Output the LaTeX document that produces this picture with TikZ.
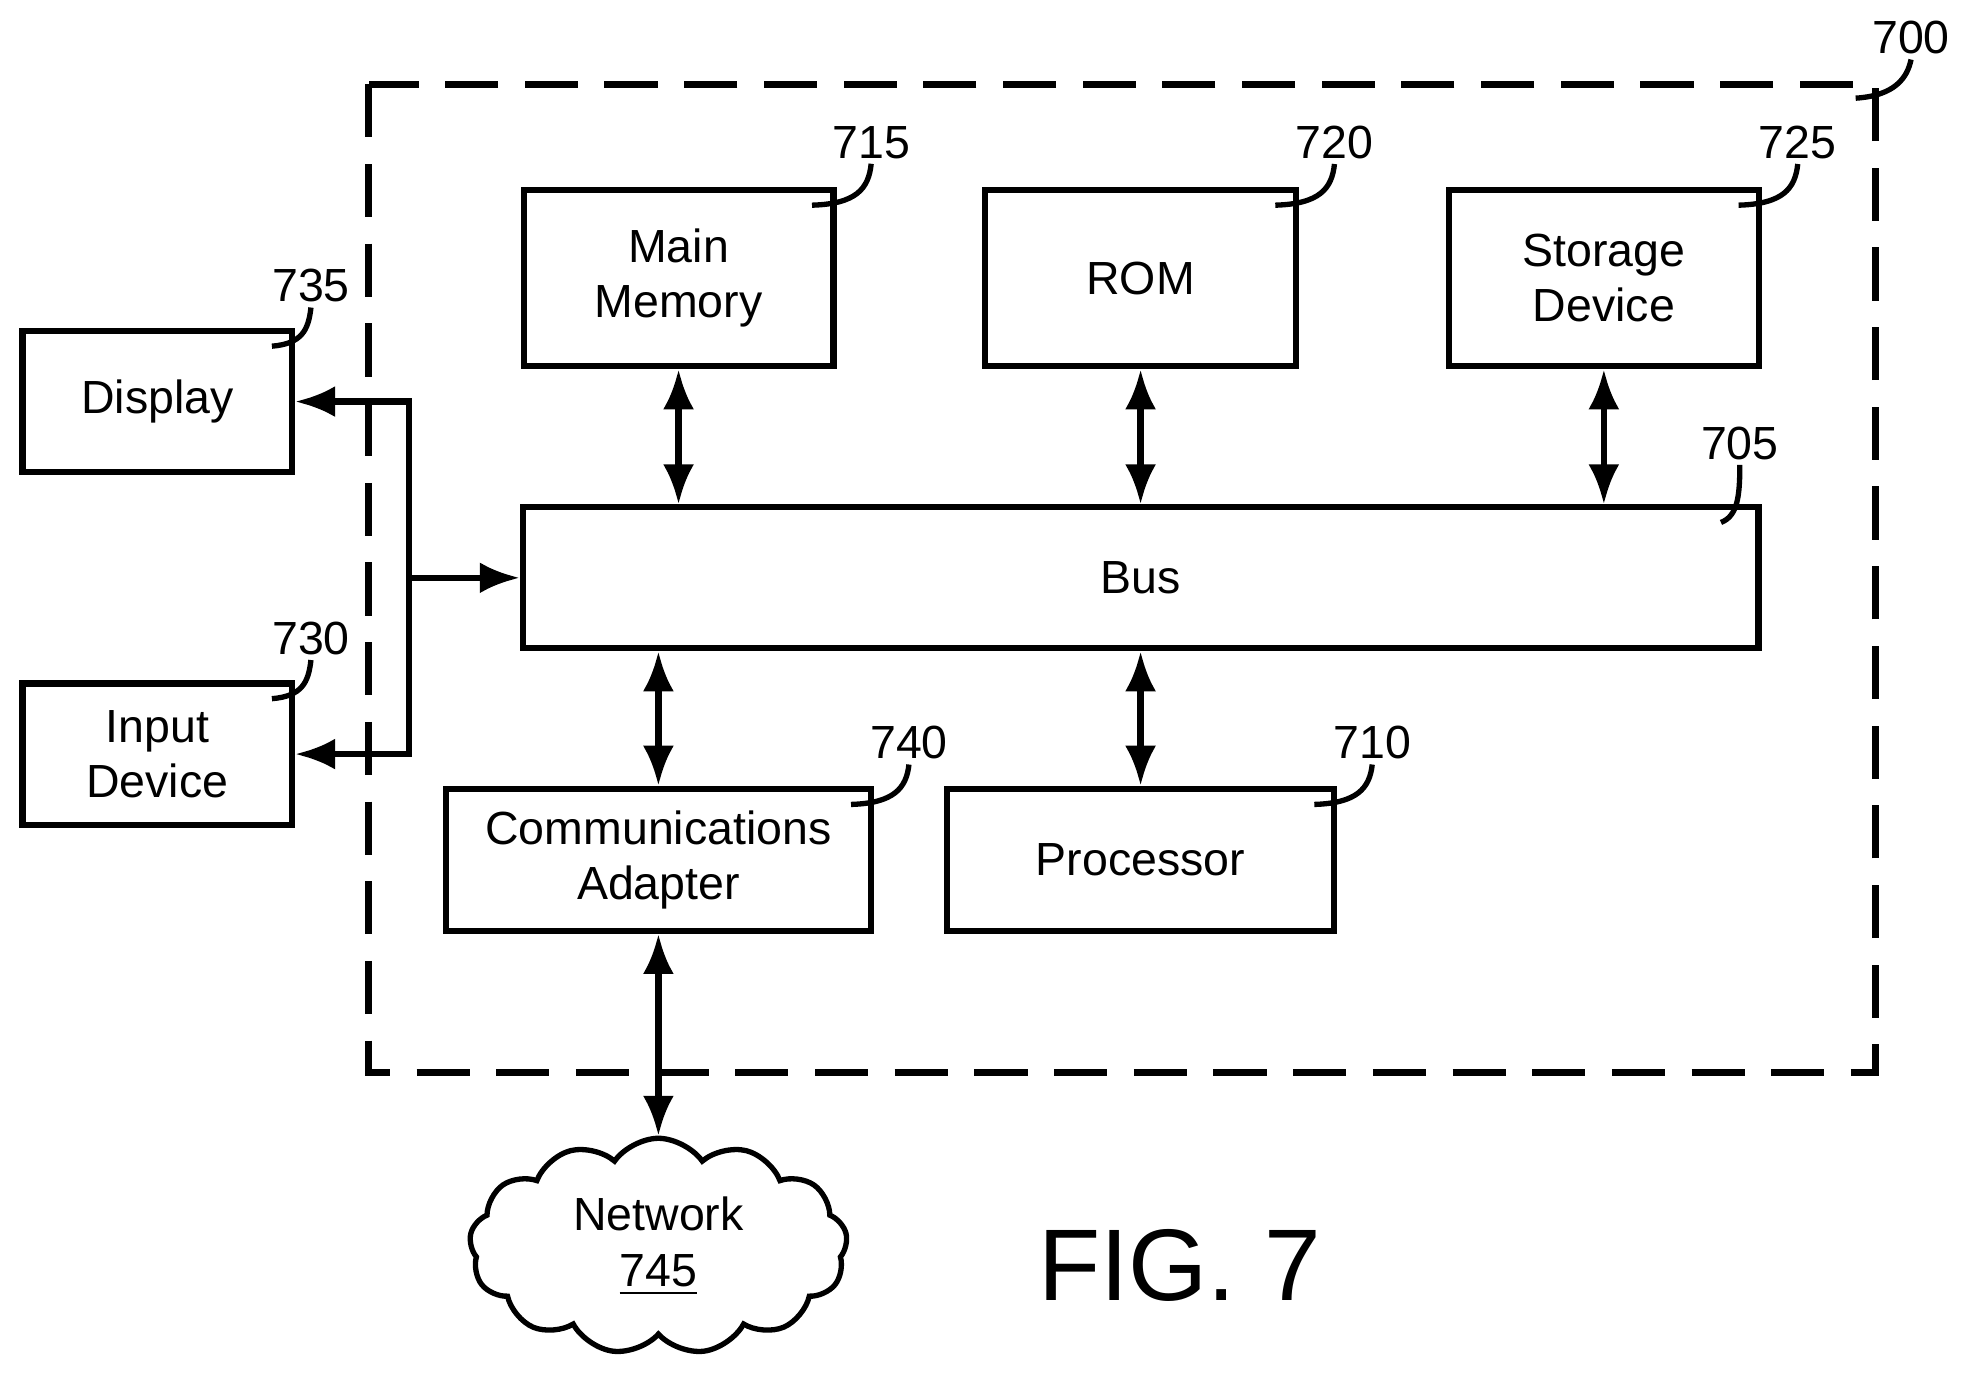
\documentclass[tikz,border=0pt]{standalone}
\usepackage{fontspec}
\setmainfont{Liberation Sans}
\usetikzlibrary{shapes.symbols,arrows.meta}
\begin{document}
\begin{tikzpicture}[x=0.01cm,y=-0.01cm,>={Latex[length=9pt,width=7pt]},
  box/.style={draw,line width=1.4pt,inner sep=0pt,align=center,font=\fontsize{10.5}{12.5}\selectfont},
  num/.style={font=\fontsize{10.5}{12}\selectfont,inner sep=1pt},
  lead/.style={line width=1.2pt},
  conn/.style={line width=1.4pt}]
  \useasboundingbox (0,0) rectangle (1568,1095);
  % outer system box
  \draw[line width=1.6pt,dash pattern=on 12pt off 6pt] (293,67) rectangle (1490,852);
  % blocks
  \node[box,minimum width=246\pgflinewidth*0+2.46cm,minimum height=1.4cm] (mm) at (539,221) {Main\\Memory};
  \node[box,minimum width=2.47cm,minimum height=1.4cm] (rom) at (906,221) {ROM};
  \node[box,minimum width=2.46cm,minimum height=1.4cm] (sd) at (1274,221) {Storage\\Device};
  \node[box,minimum width=9.81cm,minimum height=1.12cm] (bus) at (906,459) {Bus};
  \node[box,minimum width=3.37cm,minimum height=1.13cm] (ca) at (523,683) {Communications\\Adapter};
  \node[box,minimum width=3.07cm,minimum height=1.13cm] (proc) at (906,683) {Processor};
  \node[box,minimum width=2.14cm,minimum height=1.12cm] (disp) at (125,319) {Display};
  \node[box,minimum width=2.14cm,minimum height=1.12cm] (inp) at (125,599) {Input\\Device};
  \node[cloud,draw,line width=1.2pt,cloud puffs=13,cloud puff arc=110,aspect=1.8,
        minimum width=3.0cm,minimum height=1.7cm,align=center,
        font=\fontsize{10.5}{12.5}\selectfont] (net) at (523,990) {Network\\\underline{745}};
  \node[font=\fontsize{23}{26}\selectfont] (fig) at (937,1005) {FIG. 7};
  % bus connections
  \draw[conn,<->] (mm.south) -- (mm.south |- bus.north);
  \draw[conn,<->] (rom.south) -- (rom.south |- bus.north);
  \draw[conn,<->] (sd.south) -- (sd.south |- bus.north);
  \draw[conn,<->] (ca.north) -- (ca.north |- bus.south);
  \draw[conn,<->] (proc.north) -- (proc.north |- bus.south);
  \draw[conn,<->] (ca.south) -- (net.north);
  % I/O connections
  \coordinate (io) at (325,459);
  \draw[conn,->] (io) |- (disp.east);
  \draw[conn,->] (io) |- (inp.east);
  \draw[conn,->] (io) -- (bus.west);
  % reference numerals
  \node[num] (l700) at (1518,30) {700};
  \node[num] (l715) at (692,113) {715};
  \node[num] (l720) at (1060,113) {720};
  \node[num] (l725) at (1428,113) {725};
  \node[num] (l705) at (1382,352) {705};
  \node[num] (l735) at (247,227) {735};
  \node[num] (l730) at (247,507) {730};
  \node[num] (l740) at (722,590) {740};
  \node[num] (l710) at (1090,590) {710};
  \draw[lead] (1474,78) .. controls (1505,76) and (1515,62) .. (l700.south);
  \draw[lead] (645,163) .. controls (680,162) and (690,150) .. (l715.south);
  \draw[lead] (1013,163) .. controls (1048,162) and (1058,150) .. (l720.south);
  \draw[lead] (1381,163) .. controls (1416,162) and (1426,150) .. (l725.south);
  \draw[lead] (1367,415) .. controls (1380,410) and (1382,395) .. (l705.south);
  \draw[lead] (216,275) .. controls (240,273) and (245,262) .. (l735.south);
  \draw[lead] (216,555) .. controls (240,553) and (245,542) .. (l730.south);
  \draw[lead] (676,639) .. controls (710,638) and (720,626) .. (l740.south);
  \draw[lead] (1044,639) .. controls (1078,638) and (1088,626) .. (l710.south);
\end{tikzpicture}
\end{document}
